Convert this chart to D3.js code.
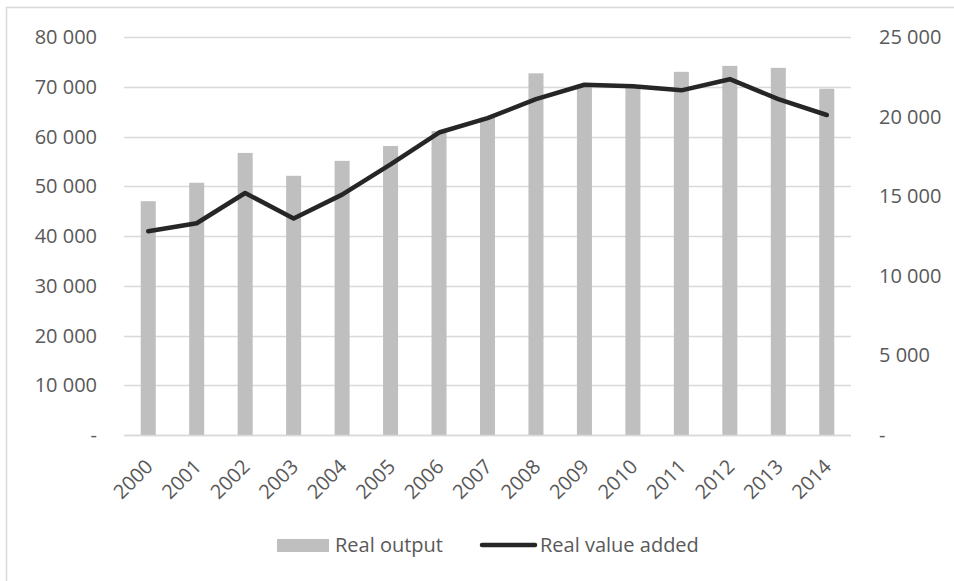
<!DOCTYPE html>
<html>
<head>
<meta charset="utf-8">
<script src="https://cdn.jsdelivr.net/npm/d3@7"></script>
<style>
  body { margin: 0; background: #fff; }
  svg text { font-family: "Open Sans", "Liberation Sans", sans-serif; fill: #595959; }
</style>
</head>
<body>
<svg id="chart"></svg>
<script>
var years = ["2000","2001","2002","2003","2004","2005","2006","2007","2008","2009","2010","2011","2012","2013","2014"];
var realOutput = [47000, 50700, 56700, 52100, 55100, 58100, 61100, 63800, 72700, 70500, 70000, 73000, 74200, 73800, 69600];
var realValueAdded = [12800, 13300, 15200, 13600, 15100, 17000, 19000, 19900, 21100, 22000, 21900, 21650, 22350, 21100, 20100];
var leftTicks = [0, 10000, 20000, 30000, 40000, 50000, 60000, 70000, 80000];
var rightTicks = [0, 5000, 10000, 15000, 20000, 25000];

var W = 954, H = 581;
var m = { left: 124, right: 851, top: 37, bottom: 435 };
var fs = 20;

var svg = d3.select('#chart').attr('width', W).attr('height', H);

// outer frame (only top and left edges show in the window)
svg.append('rect')
    .attr('x', 6.5).attr('y', 7.5)
    .attr('width', 980).attr('height', 620)
    .attr('fill', 'none').attr('stroke', '#d9d9d9').attr('stroke-width', 1.5);

var x = d3.scaleBand().domain(years).range([m.left, m.right]).paddingInner(0.69).paddingOuter(0.345);
var yL = d3.scaleLinear().domain([0, 80000]).range([m.bottom, m.top]);
var yR = d3.scaleLinear().domain([0, 25000]).range([m.bottom, m.top]);

function fmt(v) {
    if (v === 0) return '-';
    return d3.format(',')(v).replace(/,/g, ' ');
}

// gridlines
svg.append('g').selectAll('line').data(leftTicks).enter().append('line')
    .attr('x1', m.left).attr('x2', m.right)
    .attr('y1', function (d) { return Math.round(yL(d)) + 0.5; })
    .attr('y2', function (d) { return Math.round(yL(d)) + 0.5; })
    .attr('stroke', '#d9d9d9').attr('stroke-width', 1.5);

// bars
svg.append('g').selectAll('rect').data(realOutput).enter().append('rect')
    .attr('x', function (d, i) { return x(years[i]); })
    .attr('y', function (d) { return yL(d); })
    .attr('width', x.bandwidth())
    .attr('height', function (d) { return yL(0) - yL(d); })
    .attr('fill', '#bfbfbf');

// baseline
svg.append('line')
    .attr('x1', m.left).attr('x2', m.right)
    .attr('y1', yL(0) + 0.5).attr('y2', yL(0) + 0.5)
    .attr('stroke', '#d9d9d9').attr('stroke-width', 1.5);

// line
var line = d3.line()
    .x(function (d, i) { return x(years[i]) + x.bandwidth() / 2; })
    .y(function (d) { return yR(d); });
svg.append('path').datum(realValueAdded)
    .attr('d', line)
    .attr('fill', 'none').attr('stroke', '#262626')
    .attr('stroke-width', 4.5)
    .attr('stroke-linecap', 'round').attr('stroke-linejoin', 'round');

// left axis labels
svg.append('g').selectAll('text').data(leftTicks).enter().append('text')
    .attr('x', 97).attr('y', function (d) { return yL(d); })
    .attr('dy', '0.35em').attr('text-anchor', 'end')
    .attr('font-size', fs)
    .text(fmt);

// right axis labels
svg.append('g').selectAll('text').data(rightTicks).enter().append('text')
    .attr('x', 879).attr('y', function (d) { return yR(d); })
    .attr('dy', '0.35em').attr('text-anchor', 'start')
    .attr('font-size', fs)
    .text(fmt);

// x labels
svg.append('g').selectAll('text').data(years).enter().append('text')
    .attr('transform', function (d) {
        return 'translate(' + (x(d) + x.bandwidth() / 2 + 1) + ',' + 463 + ') rotate(-45)';
    })
    .attr('text-anchor', 'end').attr('dy', '0.35em')
    .attr('font-size', fs)
    .text(function (d) { return d; });

// legend
var lg = svg.append('g');
lg.append('rect').attr('x', 277).attr('y', 539).attr('width', 52).attr('height', 13).attr('fill', '#bfbfbf');
lg.append('text').attr('x', 335).attr('y', 545).attr('dy', '0.35em').attr('font-size', fs).text('Real output');
lg.append('line').attr('x1', 482).attr('x2', 535).attr('y1', 545).attr('y2', 545)
    .attr('stroke', '#262626').attr('stroke-width', 4.5).attr('stroke-linecap', 'round');
lg.append('text').attr('x', 540).attr('y', 545).attr('dy', '0.35em').attr('font-size', fs).text('Real value added');
</script>
</body>
</html>
